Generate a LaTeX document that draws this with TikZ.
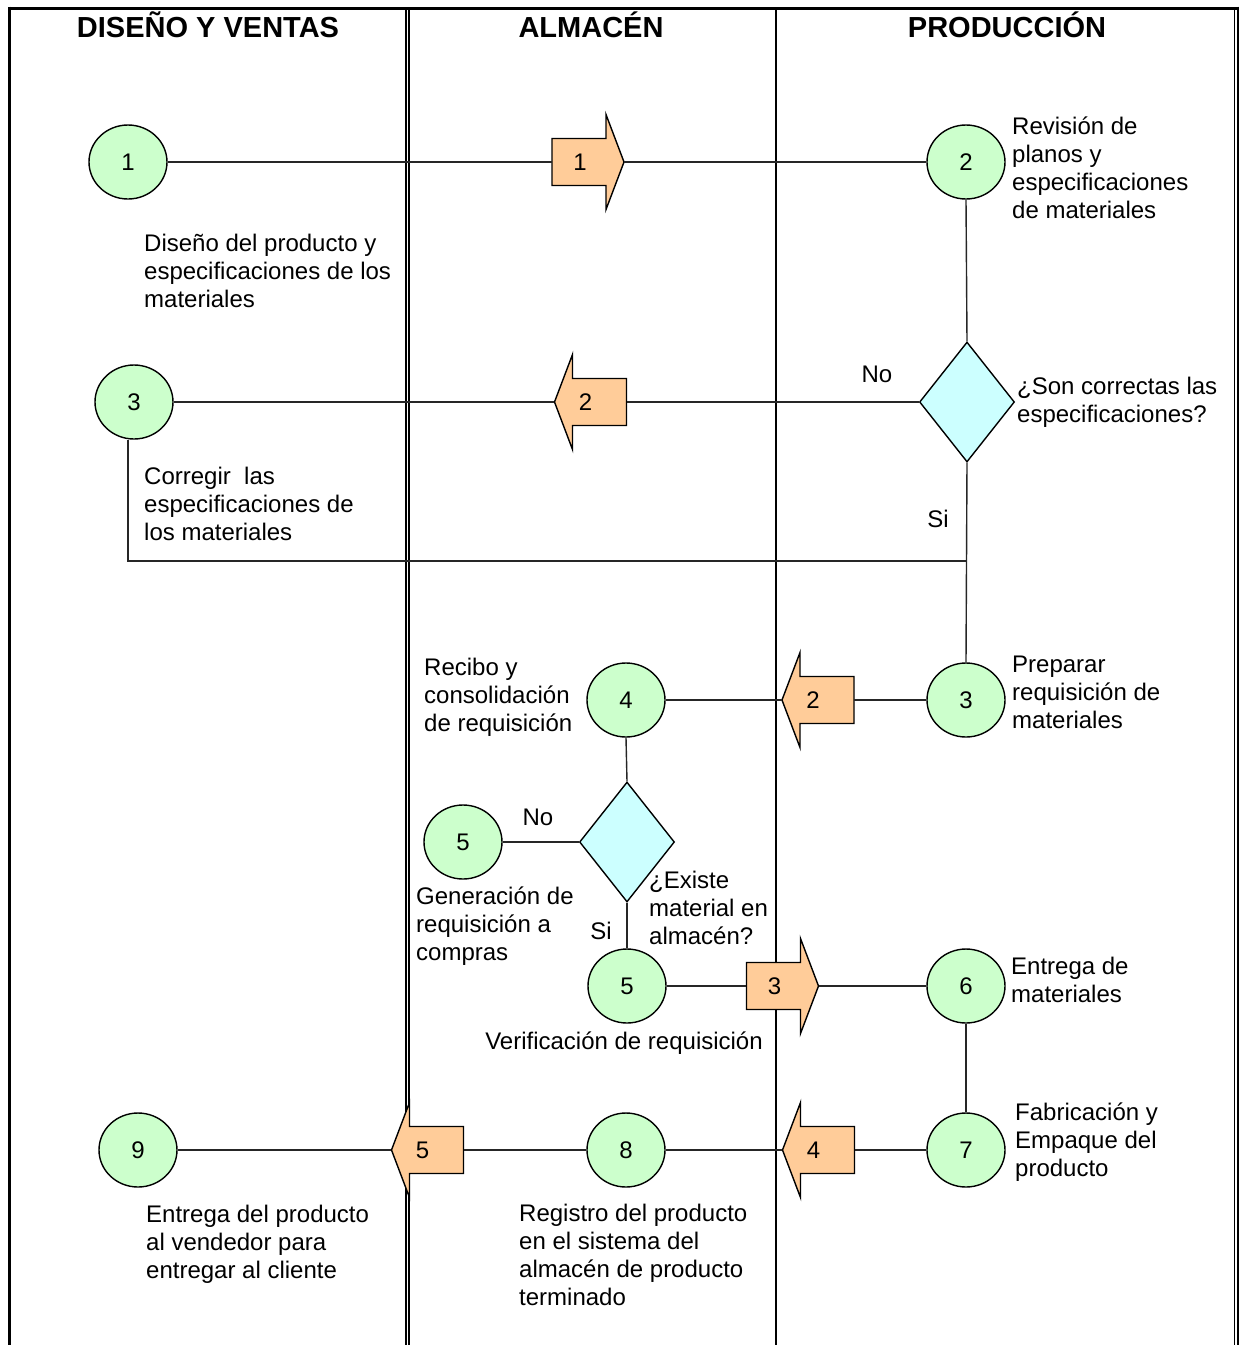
\documentclass[tikz,border=0pt]{standalone}
\usepackage{fontspec}
\setmainfont{Liberation Sans}
\usetikzlibrary{shapes.geometric,calc}
\definecolor{circfill}{RGB}{204,255,204}
\definecolor{diafill}{RGB}{204,255,255}
\definecolor{arrfill}{RGB}{255,204,153}
\newcommand\bodyfont{\fontsize{24}{28}\selectfont}
\newcommand\headfont{\fontsize{29}{34}\selectfont\bfseries}
\tikzset{
 stepcirc/.style={ellipse, draw=black, line width=1.4, fill=circfill, minimum width=78, minimum height=74, inner sep=0, font=\bodyfont},
 decision/.style={diamond, draw=black, line width=1.4, fill=diafill, minimum width=95, minimum height=120, inner sep=0},
 abox/.style={minimum width=72, minimum height=95, inner sep=0},
 barrow/.style={draw=black, line width=1.4, fill=arrfill, line join=miter},
 alabel/.style={inner sep=0, font=\bodyfont},
 txt/.style={anchor=north west, inner sep=0, align=left, font=\bodyfont},
 word/.style={anchor=base, inner sep=0, font=\bodyfont},
 head/.style={anchor=base, inner sep=0, font=\headfont},
 conn/.style={line width=1.4, draw=black!85},
}
\newcommand\rightblock[4]{%
 \draw[barrow, shift={(#2,#3)}] (-36,-23.5) -- (18,-23.5) -- (18,-47.5) -- (36,0) -- (18,47.5) -- (18,23.5) -- (-36,23.5) -- cycle;
 \node[abox] (#1) at (#2,#3) {};
 \node[alabel] (#1-t) at (#2-8,#3) {#4};
}
\newcommand\leftblock[4]{%
 \draw[barrow, shift={(#2,#3)}] (36,-23.5) -- (-18,-23.5) -- (-18,-47.5) -- (-36,0) -- (-18,47.5) -- (-18,23.5) -- (36,23.5) -- cycle;
 \node[abox] (#1) at (#2,#3) {};
 \node[alabel] (#1-t) at (#2-5,#3) {#4};
}
\begin{document}
\begin{tikzpicture}[x=1pt,y=-1pt]
\useasboundingbox (0,0) rectangle (1242,1345);
% frame and swimlanes
\draw[line width=3] (8,8) -- (1238.5,8);
\draw[line width=2.5] (9.5,6.5) -- (9.5,1345);
\draw[line width=1.2] (406,8) -- (406,1345);
\draw[line width=1.2] (409,8) -- (409,1345);
\draw[line width=2] (776,8) -- (776,1345);
\draw[line width=1.2] (1234.5,8) -- (1234.5,1345);
\draw[line width=1.2] (1238,6.5) -- (1238,1345);
% headers
\node[head] (h1) at (208,37.4) {DISEÑO Y VENTAS};
\node[head] (h2) at (591,37.4) {ALMACÉN};
\node[head] (h3) at (1007,37.4) {PRODUCCIÓN};
% block arrows
\rightblock{a1}{588}{162}{1}
\leftblock{a2}{590.5}{402}{2}
\leftblock{a2b}{818}{700}{2}
\rightblock{a3}{782.5}{986}{3}
\leftblock{a4}{818.5}{1150}{4}
\leftblock{a5}{427.5}{1150}{5}
% steps
\node[stepcirc] (c1) at (128,162) {1};
\node[stepcirc] (c2) at (966,162) {2};
\node[decision] (d1) at (967,402) {};
\node[stepcirc] (c3) at (134,402) {3};
\node[stepcirc] (c3p) at (966,700) {3};
\node[stepcirc] (c4) at (626,700) {4};
\node[decision] (d2) at (627,842) {};
\node[stepcirc] (c5) at (463,842) {5};
\node[stepcirc] (c5b) at (627,986) {5};
\node[stepcirc] (c6) at (966,986) {6};
\node[stepcirc] (c7) at (966,1150) {7};
\node[stepcirc] (c8) at (626,1150) {8};
\node[stepcirc] (c9) at (138,1150) {9};
\coordinate (j) at (967,561);
% connectors
\draw[conn] (c1.east) -- (a1.west);
\draw[conn] (a1.east) -- (c2.west);
\draw[conn] (c2.south) -- (d1.north);
\draw[conn] (d1.west) -- (a2.east);
\draw[conn] (a2.west) -- (c3.east);
\draw[conn] (d1.south) -- (c3p.north);
\draw[conn] ([xshift=-6pt]c3.south) |- (j);
\draw[conn] (c3p.west) -- (a2b.east);
\draw[conn] (a2b.west) -- (c4.east);
\draw[conn] (c4.south) -- (d2.north);
\draw[conn] (d2.west) -- (c5.east);
\draw[conn] (d2.south) -- (c5b.north);
\draw[conn] (c5b.east) -- (a3.west);
\draw[conn] (a3.east) -- (c6.west);
\draw[conn] (c6.south) -- (c7.north);
\draw[conn] (c7.west) -- (a4.east);
\draw[conn] (a4.west) -- (c8.east);
\draw[conn] (c8.west) -- (a5.east);
\draw[conn] (a5.west) -- (c9.east);
% texts
\node[txt] (t1) at (144,232) {\strut Diseño del producto y\\especificaciones de los\\materiales};
\node[txt] (t2) at (1012,115) {\strut Revisión de\\planos y\\especificaciones\\de materiales};
\node[txt] (t3) at (1017,375) {\strut ¿Son correctas las\\especificaciones?};
\node[txt] (t4) at (144,465) {\strut Corregir~~las\\especificaciones de\\los materiales};
\node[txt] (t5) at (1012,653) {\strut Preparar\\requisición de\\materiales};
\node[txt] (t6) at (424,656) {\strut Recibo y\\consolidación\\de requisición};
\node[txt] (t7) at (416,885) {\strut Generación de\\requisición a\\compras};
\node[txt] (t8) at (649,869) {\strut ¿Existe\\material en\\almacén?};
\node[word] (t9) at (624,1049) {Verificación de requisición};
\node[txt] (t10) at (1011,955) {\strut Entrega de\\materiales};
\node[txt] (t11) at (1015,1101) {\strut Fabricación y\\Empaque del\\producto};
\node[txt] (t12) at (519,1202) {\strut Registro del producto\\en el sistema del\\almacén de producto\\terminado};
\node[txt] (t13) at (146,1203) {\strut Entrega del producto\\al vendedor para\\entregar al cliente};
\node[word] (no1) at (877,382.5) {No};
\node[word] (si1) at (938,527.5) {Si};
\node[word] (no2) at (538,825.5) {No};
\node[word] (si2) at (601,939.5) {Si};
\end{tikzpicture}
\end{document}
